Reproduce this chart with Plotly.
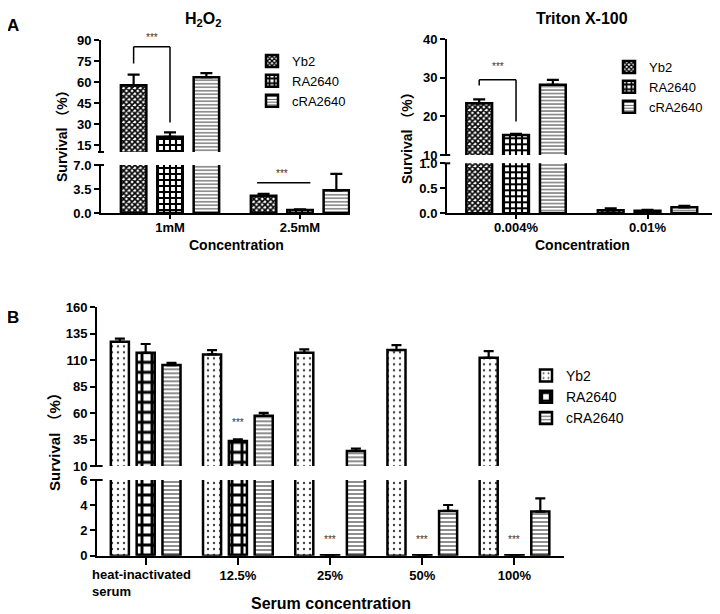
import plotly.graph_objects as go

# ---------------- data ----------------
series_names = ["Yb2", "RA2640", "cRA2640"]

h2o2_conc = ["1mM", "2.5mM"]
h2o2_yb2 = [57.6, 2.5]
h2o2_yb2_err = [7.6, 0.3]
h2o2_ra = [20.9, 0.45]
h2o2_ra_err = [3.1, 0.1]
h2o2_cra = [63.4, 3.3]
h2o2_cra_err = [3.0, 2.4]

tx_conc = ["0.004%", "0.01%"]
tx_yb2 = [23.4, 0.06]
tx_yb2_err = [1.0, 0.04]
tx_ra = [15.2, 0.05]
tx_ra_err = [0.3, 0.02]
tx_cra = [28.2, 0.12]
tx_cra_err = [1.3, 0.03]

serum_conc = ["heat-inactivated serum", "12.5%", "25%", "50%", "100%"]
serum_yb2 = [127.4, 115.5, 117.0, 119.6, 112.3]
serum_yb2_err = [2.9, 4.1, 3.2, 4.7, 6.3]
serum_ra = [117.0, 33.7, 0.04, 0.04, 0.04]
serum_ra_err = [8.3, 1.6, 0.0, 0.0, 0.0]
serum_cra = [105.4, 57.4, 24.2, 3.55, 3.5]
serum_cra_err = [2.1, 2.8, 2.3, 0.47, 1.05]

h2o2_upper_ticks = [15, 30, 45, 60, 75, 90]
h2o2_lower_ticks = [0, 3.5, 7]
tx_upper_ticks = [10, 20, 30, 40]
tx_lower_ticks = [0, 0.5, 1.0]
serum_upper_ticks = [10, 35, 60, 85, 110, 135, 160]
serum_lower_ticks = [0, 2, 4, 6]

# ---------------- layout helpers ----------------
W, H = 720, 614
OFF = 8  # page body margin
FONT = "Liberation Sans, Arial, Noto Sans CJK SC, sans-serif"
BARGAP = 0.16
SLOT = (1 - BARGAP) / 3


def px(x):
    return (x - OFF) / W


def py(y):
    return 1 - (y - OFF) / H


fig = go.Figure()

patA = [
    dict(shape="x", size=4, solidity=0.65, fgcolor="black", bgcolor="white"),
    dict(shape="+", size=6, solidity=0.58, fgcolor="black", bgcolor="white"),
    dict(shape="-", size=3.5, solidity=0.3, fgcolor="#444", bgcolor="white"),
]
patB = [
    dict(shape=".", size=6, solidity=0.12, fgcolor="#444", bgcolor="white"),
    dict(shape="+", size=10, solidity=0.5, fgcolor="black", bgcolor="white"),
    dict(shape="-", size=4, solidity=0.3, fgcolor="#444", bgcolor="white"),
]


def add_panel(cats, vals, errs, xa, ya_low, ya_up, pats, legend, capw):
    for i, (v, e) in enumerate(zip(vals, errs)):
        for ya, show in ((ya_low, False), (ya_up, True)):
            fig.add_trace(go.Bar(
                x=cats, y=v, name=series_names[i],
                xaxis=xa, yaxis=ya,
                marker=dict(color="white", pattern=pats[i],
                            line=dict(color="black", width=2.5)),
                error_y=dict(type="data", array=e, arrayminus=[0] * len(e),
                             symmetric=False, color="black",
                             thickness=2.2, width=capw),
                showlegend=show, legend=legend,
            ))


add_panel(h2o2_conc, [h2o2_yb2, h2o2_ra, h2o2_cra],
          [h2o2_yb2_err, h2o2_ra_err, h2o2_cra_err],
          "x", "y", "y2", patA, "legend", 6)
add_panel(tx_conc, [tx_yb2, tx_ra, tx_cra],
          [tx_yb2_err, tx_ra_err, tx_cra_err],
          "x2", "y3", "y4", patA, "legend2", 6)
add_panel(serum_conc, [serum_yb2, serum_ra, serum_cra],
          [serum_yb2_err, serum_ra_err, serum_cra_err],
          "x3", "y5", "y6", patB, "legend3", 5)

tickfont = dict(family=FONT, size=13, color="black", weight="bold")


def yax(domain, rng, ticks, anchor, fmt=None):
    d = dict(domain=domain, range=rng, anchor=anchor, showline=True,
             linewidth=2, linecolor="black", ticks="outside", ticklen=5,
             tickwidth=2, tickcolor="black", tickvals=ticks, automargin=False,
             showgrid=False, zeroline=False, tickfont=tickfont, fixedrange=True)
    if fmt:
        d["tickformat"] = fmt
    return d


def xax(domain, rng, anchor, ticklen, cats, ticktext=None, standoff=0):
    d = dict(domain=domain, range=rng, anchor=anchor, showline=True,
             linewidth=2, linecolor="black", ticks="outside", ticklen=ticklen,
             tickwidth=2, tickcolor="black", showgrid=False, zeroline=False,
             tickfont=tickfont, type="category", fixedrange=True,
             automargin=False, ticklabelstandoff=standoff)
    if ticktext is not None:
        d["tickvals"] = cats
        d["ticktext"] = ticktext
    return d


def leg(x, y, size):
    return dict(x=x, y=y, xanchor="left", yanchor="top",
                font=dict(family=FONT, size=size, color="black"),
                bgcolor="rgba(0,0,0,0)", tracegroupgap=0)


fig.update_layout(
    template="none",
    width=W, height=H, margin=dict(l=0, r=0, t=0, b=0, autoexpand=False),
    paper_bgcolor="white", plot_bgcolor="white",
    barmode="group", bargap=BARGAP, bargroupgap=0.3,
    font=dict(family=FONT, color="black"),
    # panel A left
    xaxis=xax([px(101), px(350)], [-0.531, 1.385], "y", 4, h2o2_conc,
              standoff=-3),
    yaxis=yax([py(213), py(165)], [0, 7], h2o2_lower_ticks, "x", ".1f"),
    yaxis2=yax([py(152), py(40)], [10, 90], h2o2_upper_ticks, "x"),
    # panel A right
    xaxis2=xax([px(447), px(713)], [-0.525, 1.498], "y3", 4, tx_conc,
               standoff=-3),
    yaxis3=yax([py(213.3), py(163.3)], [0, 1], tx_lower_ticks, "x2", ".1f"),
    yaxis4=yax([py(155), py(39.3)], [10, 40], tx_upper_ticks, "x2"),
    # panel B
    xaxis3=xax([px(97), px(564)], [-0.528, 4.537], "y5", 7, serum_conc,
               [" "] + serum_conc[1:]),
    yaxis5=yax([py(555.7), py(480)], [0, 6], serum_lower_ticks, "x3"),
    yaxis6=yax([py(466), py(307.3)], [10, 160], serum_upper_ticks, "x3"),
    legend=leg(px(252), py(46), 13),
    legend2=leg(px(609), py(52), 13),
    legend3=leg(px(526), py(360), 14),
)

ann = []


def txt(x, y, s, size=13, bold=True, xref="paper", yref="paper", angle=0,
        align="center", color="black"):
    ann.append(dict(x=x, y=y, xref=xref, yref=yref, text=s, showarrow=False,
                    textangle=angle, align=align,
                    font=dict(family=FONT, size=size, color=color,
                              weight="bold" if bold else "normal"),
                    xanchor="center", yanchor="middle"))


txt(px(13), py(25), "A", 17)
txt(px(13), py(317), "B", 17)
txt(px(203), py(19), "H<sub>2</sub>O<sub>2</sub>", 16)
txt(px(582), py(18), "Triton X-100", 16)
txt(px(62), py(133), "Survival （%）", 14, angle=-90)
txt(px(407), py(135), "Survival （%）", 14, angle=-90)
txt(px(54), py(438), "Survival （%）", 15, angle=-90)
txt(px(236), py(245), "Concentration", 14)
txt(px(582), py(245), "Concentration", 14)
txt(px(331), py(603), "Serum concentration", 16)
txt(-0.05, py(583), "heat-inactivated<br>serum", 13, xref="x3", align="left")

STAR = "#333"
shapes = []


def seg(xr, yr, x0, y0, x1, y1):
    shapes.append(dict(type="line", xref=xr, yref=yr, x0=x0, y0=y0, x1=x1,
                       y1=y1, line=dict(color="black", width=1.5)))


# H2O2 1mM bracket
lb = h2o2_yb2[0] + h2o2_yb2_err[0] + 8
rb = h2o2_ra[0] + h2o2_ra_err[0] + 7
top = lb + 12
seg("x", "y2", -SLOT, lb, -SLOT, top)
seg("x", "y2", -SLOT, top, 0, top)
seg("x", "y2", 0, top, 0, rb)
txt(-SLOT / 2, py(37), "***", 10, False, "x", "paper", color=STAR)
# H2O2 2.5mM line
lvl = h2o2_cra[1] + 1.1
seg("x", "y", 1 - SLOT - 0.05, lvl, 1 + 0.08, lvl)
txt(1 - SLOT / 2, lvl + 1.4, "***", 10, False, "x", "y", color=STAR)
# Triton bracket
lb2 = tx_yb2[0] + tx_yb2_err[0] + 3.6
rb2 = tx_ra[0] + tx_ra_err[0] + 3.2
top2 = lb2 + 1.5
seg("x2", "y4", -SLOT, lb2, -SLOT, top2)
seg("x2", "y4", -SLOT, top2, 0, top2)
seg("x2", "y4", 0, top2, 0, rb2)
txt(-SLOT / 2, top2 + 3.4, "***", 10, False, "x2", "y4", color=STAR)
# Serum stars
txt(1, serum_ra[1] + serum_ra_err[1] + 16, "***", 10, False, "x3", "y6",
    color=STAR)
for k in (2, 3, 4):
    txt(k, 1.3, "***", 10, False, "x3", "y5", color=STAR)

# axis break caps
for xr, yl, yu in (("x", "y", "y2"), ("x2", "y3", "y4"), ("x3", "y5", "y6")):
    for yr, yv in ((yl, 1), (yu, 0)):
        shapes.append(dict(type="line", xref=f"{xr} domain", yref=f"{yr} domain",
                           x0=-0.012, x1=0.012, y0=yv, y1=yv,
                           line=dict(color="black", width=2)))

fig.update_layout(annotations=ann, shapes=shapes)
fig.write_html("out.html")
